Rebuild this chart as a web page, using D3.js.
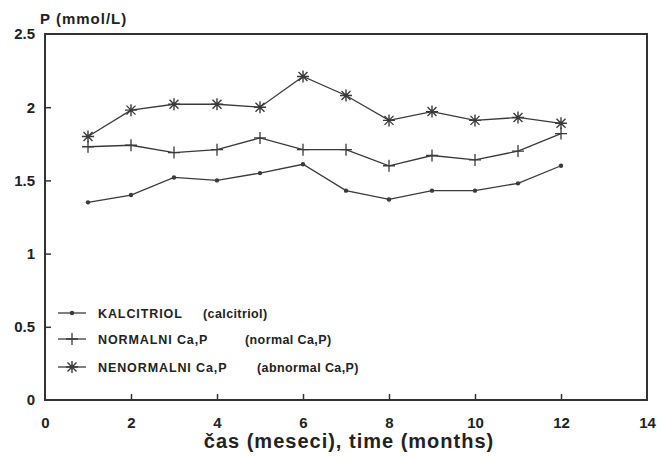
<!DOCTYPE html>
<html>
<head>
<meta charset="utf-8">
<script src="https://cdn.jsdelivr.net/npm/d3@7"></script>
<style>
  body { margin: 0; background: #fff; }
  text { font-family: "Liberation Sans", Arial, sans-serif; font-weight: bold; fill: #222; }
</style>
</head>
<body>
<svg id="chart" width="657" height="456"></svg>
<script>
// months on the x axis
const months = [1, 2, 3, 4, 5, 6, 7, 8, 9, 10, 11, 12];
// P (mmol/L) per group
const kalcitriol = [1.35, 1.40, 1.52, 1.50, 1.55, 1.61, 1.43, 1.37, 1.43, 1.43, 1.48, 1.60];
const normalni = [1.73, 1.74, 1.69, 1.71, 1.79, 1.71, 1.71, 1.60, 1.67, 1.64, 1.70, 1.82];
const nenormalni = [1.80, 1.98, 2.02, 2.02, 2.00, 2.21, 2.08, 1.91, 1.97, 1.91, 1.93, 1.89];
const xTicks = [0, 2, 4, 6, 8, 10, 12, 14];
const yTicks = [0, 0.5, 1, 1.5, 2, 2.5];
const legendLabels = [
  ["KALCITRIOL", "(calcitriol)"],
  ["NORMALNI Ca,P", "(normal Ca,P)"],
  ["NENORMALNI Ca,P", "(abnormal Ca,P)"]
];

let svg = d3.select("#chart");
let mLeft = 45, mRight = 647, mTop = 34, mBottom = 400;
let ink = "#3a3a3a";

let xScale = d3.scaleLinear().domain([0, 14]).range([mLeft, mRight]);
let yScale = d3.scaleLinear().domain([0, 2.5]).range([mBottom, mTop]);

// frame
svg.append("rect")
  .attr("x", mLeft).attr("y", mTop)
  .attr("width", mRight - mLeft).attr("height", mBottom - mTop)
  .style("fill", "none").style("stroke", "#333").style("stroke-width", "2px");

// axes, ticks pointing inwards
let xAxis = d3.axisBottom(xScale).tickValues(xTicks).tickSizeInner(-6).tickSizeOuter(0).tickPadding(17)
  .tickFormat(d3.format("d"));
let gx = svg.append("g").attr("transform", "translate(0," + mBottom + ")").call(xAxis);
let yAxis = d3.axisLeft(yScale).tickValues(yTicks).tickSizeInner(-6).tickSizeOuter(0).tickPadding(10)
  .tickFormat(d => d);
let gy = svg.append("g").attr("transform", "translate(" + mLeft + ",0)").call(yAxis);
[gx, gy].forEach(g => {
  g.select(".domain").remove();
  g.selectAll(".tick line").style("stroke", "#333").style("stroke-width", "1.5px");
  g.selectAll("text").style("font-size", "15px").attr("fill", "#222");
});
gx.selectAll("text").attr("dy", "0.71em");
gx.selectAll(".tick").filter(d => d == 0 || d == 14).select("line").remove();
gy.selectAll(".tick").filter(d => d == 0 || d == 2.5).select("line").remove();

// titles
svg.append("text").attr("x", 40).attr("y", 24).style("font-size", "15px").style("letter-spacing", "1px")
  .text("P (mmol/L)");
svg.append("text").attr("x", 349).attr("y", 448).attr("text-anchor", "middle")
  .style("font-size", "20px").style("letter-spacing", "1px").text("čas (meseci), time (months)");

let line = d3.line().x((d, i) => xScale(months[i])).y(d => yScale(d));

function dot(g) {
  g.append("circle").attr("r", 2.2).attr("fill", ink);
}
function plus(g) {
  g.append("path").attr("d", "M-6,0H6M0,-6V6").attr("stroke", ink).attr("stroke-width", 1.3);
}
function star(g) {
  g.append("path").attr("d", "M-6,0H6M0,-6V6M-4.5,-4.5L4.5,4.5M-4.5,4.5L4.5,-4.5")
    .attr("stroke", ink).attr("stroke-width", 1.4);
}

let series = [kalcitriol, normalni, nenormalni];
let markers = [dot, plus, star];

series.forEach((vals, k) => {
  svg.append("path").datum(vals)
    .attr("d", line).attr("fill", "none").attr("stroke", ink).attr("stroke-width", 1.3);
  svg.selectAll(".m" + k).data(vals).enter().append("g")
    .attr("class", "m" + k)
    .attr("transform", (d, i) => "translate(" + xScale(months[i]) + "," + yScale(d) + ")")
    .each(function () { markers[k](d3.select(this)); });
});

// legend
let legY = [313, 339, 367];
let legX2 = [203, 245, 257];
legendLabels.forEach((lab, k) => {
  let g = svg.append("g").attr("transform", "translate(0," + legY[k] + ")");
  g.append("line").attr("x1", 58).attr("x2", 86).attr("stroke", ink).attr("stroke-width", 1.3);
  let m = g.append("g").attr("transform", "translate(72,0)");
  markers[k](m);
  g.append("text").attr("x", 98).attr("y", 4.5).style("font-size", "12.5px").style("letter-spacing", "0.9px")
    .text(lab[0]);
  g.append("text").attr("x", legX2[k]).attr("y", 4.5).style("font-size", "12.5px").style("letter-spacing", "0.4px")
    .text(lab[1]);
});
</script>
</body>
</html>
